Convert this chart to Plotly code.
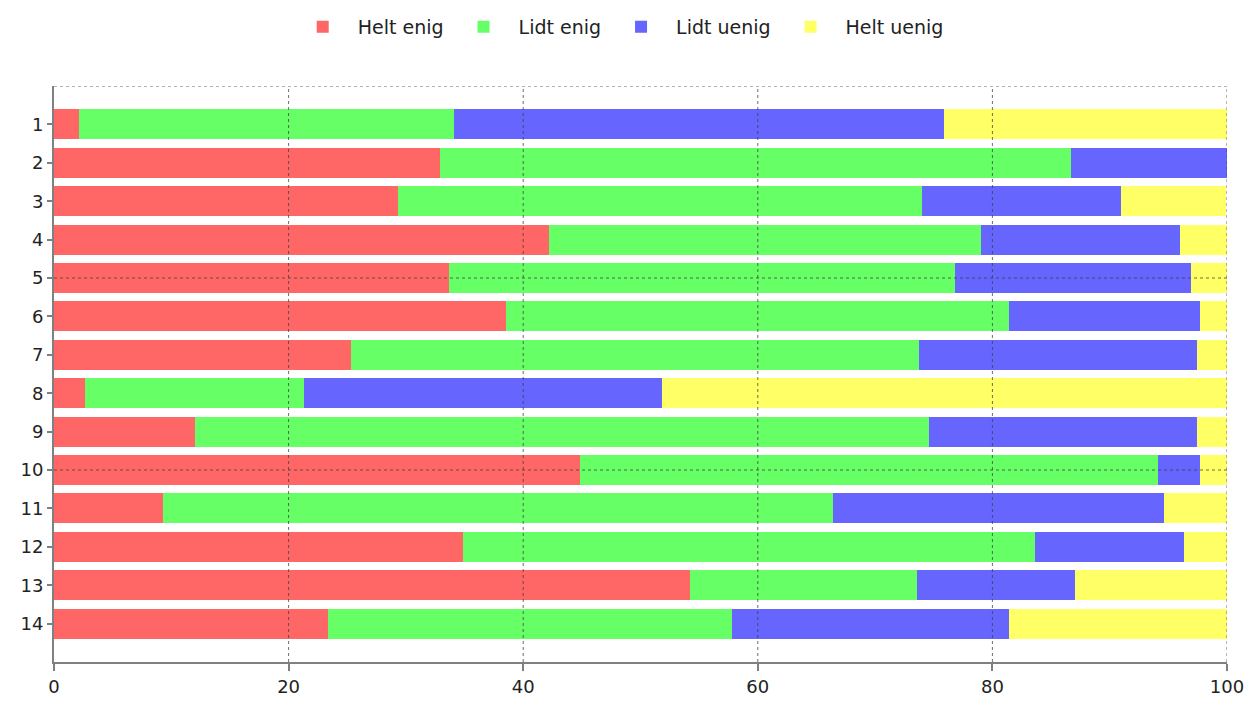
import plotly.graph_objects as go

questions = [str(i) for i in range(1, 15)]

helt_enig = [2.1, 32.9, 29.3, 42.2, 33.7, 38.5, 25.3, 2.6, 12.0, 44.8, 9.3, 34.9, 54.2, 23.4]
lidt_enig = [32.0, 53.8, 44.7, 36.8, 43.1, 42.9, 48.4, 18.7, 62.6, 49.3, 57.1, 48.7, 19.4, 34.4]
lidt_uenig = [41.8, 13.3, 17.0, 17.0, 20.1, 16.3, 23.7, 30.5, 22.8, 3.6, 28.2, 12.7, 13.4, 23.6]
helt_uenig = [24.1, 0.0, 8.9, 4.0, 3.1, 2.3, 2.6, 48.2, 2.6, 2.3, 5.4, 3.7, 13.0, 18.6]

series = [
    ("Helt enig", helt_enig, "#FF6666"),
    ("Lidt enig", lidt_enig, "#66FF66"),
    ("Lidt uenig", lidt_uenig, "#6666FF"),
    ("Helt uenig", helt_uenig, "#FFFF66"),
]

x_ticks = [0, 20, 40, 60, 80, 100]
y_grid = [0, 5, 10]

fig = go.Figure()
for name, vals, color in series:
    fig.add_trace(
        go.Bar(
            y=[int(q) for q in questions],
            x=vals,
            name=name,
            orientation="h",
            width=0.78,
            marker=dict(color=color, line=dict(width=0)),
        )
    )

# dotted gridlines drawn above the bars, like the original
grid_line = dict(color="rgba(60,60,60,0.75)", width=1, dash="dot")
for gx in x_ticks[1:]:
    fig.add_shape(type="line", xref="x", yref="paper", x0=gx, x1=gx, y0=0, y1=1,
                  line=grid_line, layer="above")
for gy in y_grid:
    fig.add_shape(type="line", xref="paper", yref="y", x0=0, x1=1, y0=gy, y1=gy,
                  line=grid_line, layer="above")

# page body has an 8px margin, so margins are shifted to compensate
fig.update_layout(
    barmode="stack",
    width=1254,
    height=701,
    margin=dict(l=40, r=35, t=78, b=44),
    plot_bgcolor="white",
    paper_bgcolor="white",
    font=dict(family="DejaVu Sans", size=18, color="#222222"),
    showlegend=True,
    legend=dict(
        orientation="h",
        x=0.481,
        xanchor="center",
        y=1.0,
        yanchor="top",
        yref="container",
        font=dict(size=19),
        itemwidth=60,
        traceorder="normal",
    ),
)
fig.update_xaxes(
    range=[0, 100],
    tickvals=x_ticks,
    showgrid=False,
    zeroline=False,
    showline=True,
    linecolor="#808080",
    linewidth=2,
    ticks="outside",
    ticklen=7,
    tickwidth=2,
    tickcolor="#808080",
    tickfont=dict(size=18),
)
fig.update_yaxes(
    range=[15, 0],
    tickvals=[int(q) for q in questions],
    ticktext=questions,
    showgrid=False,
    zeroline=False,
    showline=True,
    linecolor="#808080",
    linewidth=2,
    ticks="outside",
    ticklen=5,
    tickwidth=2,
    tickcolor="#808080",
    tickfont=dict(size=18),
)

fig.write_html("out.html")
